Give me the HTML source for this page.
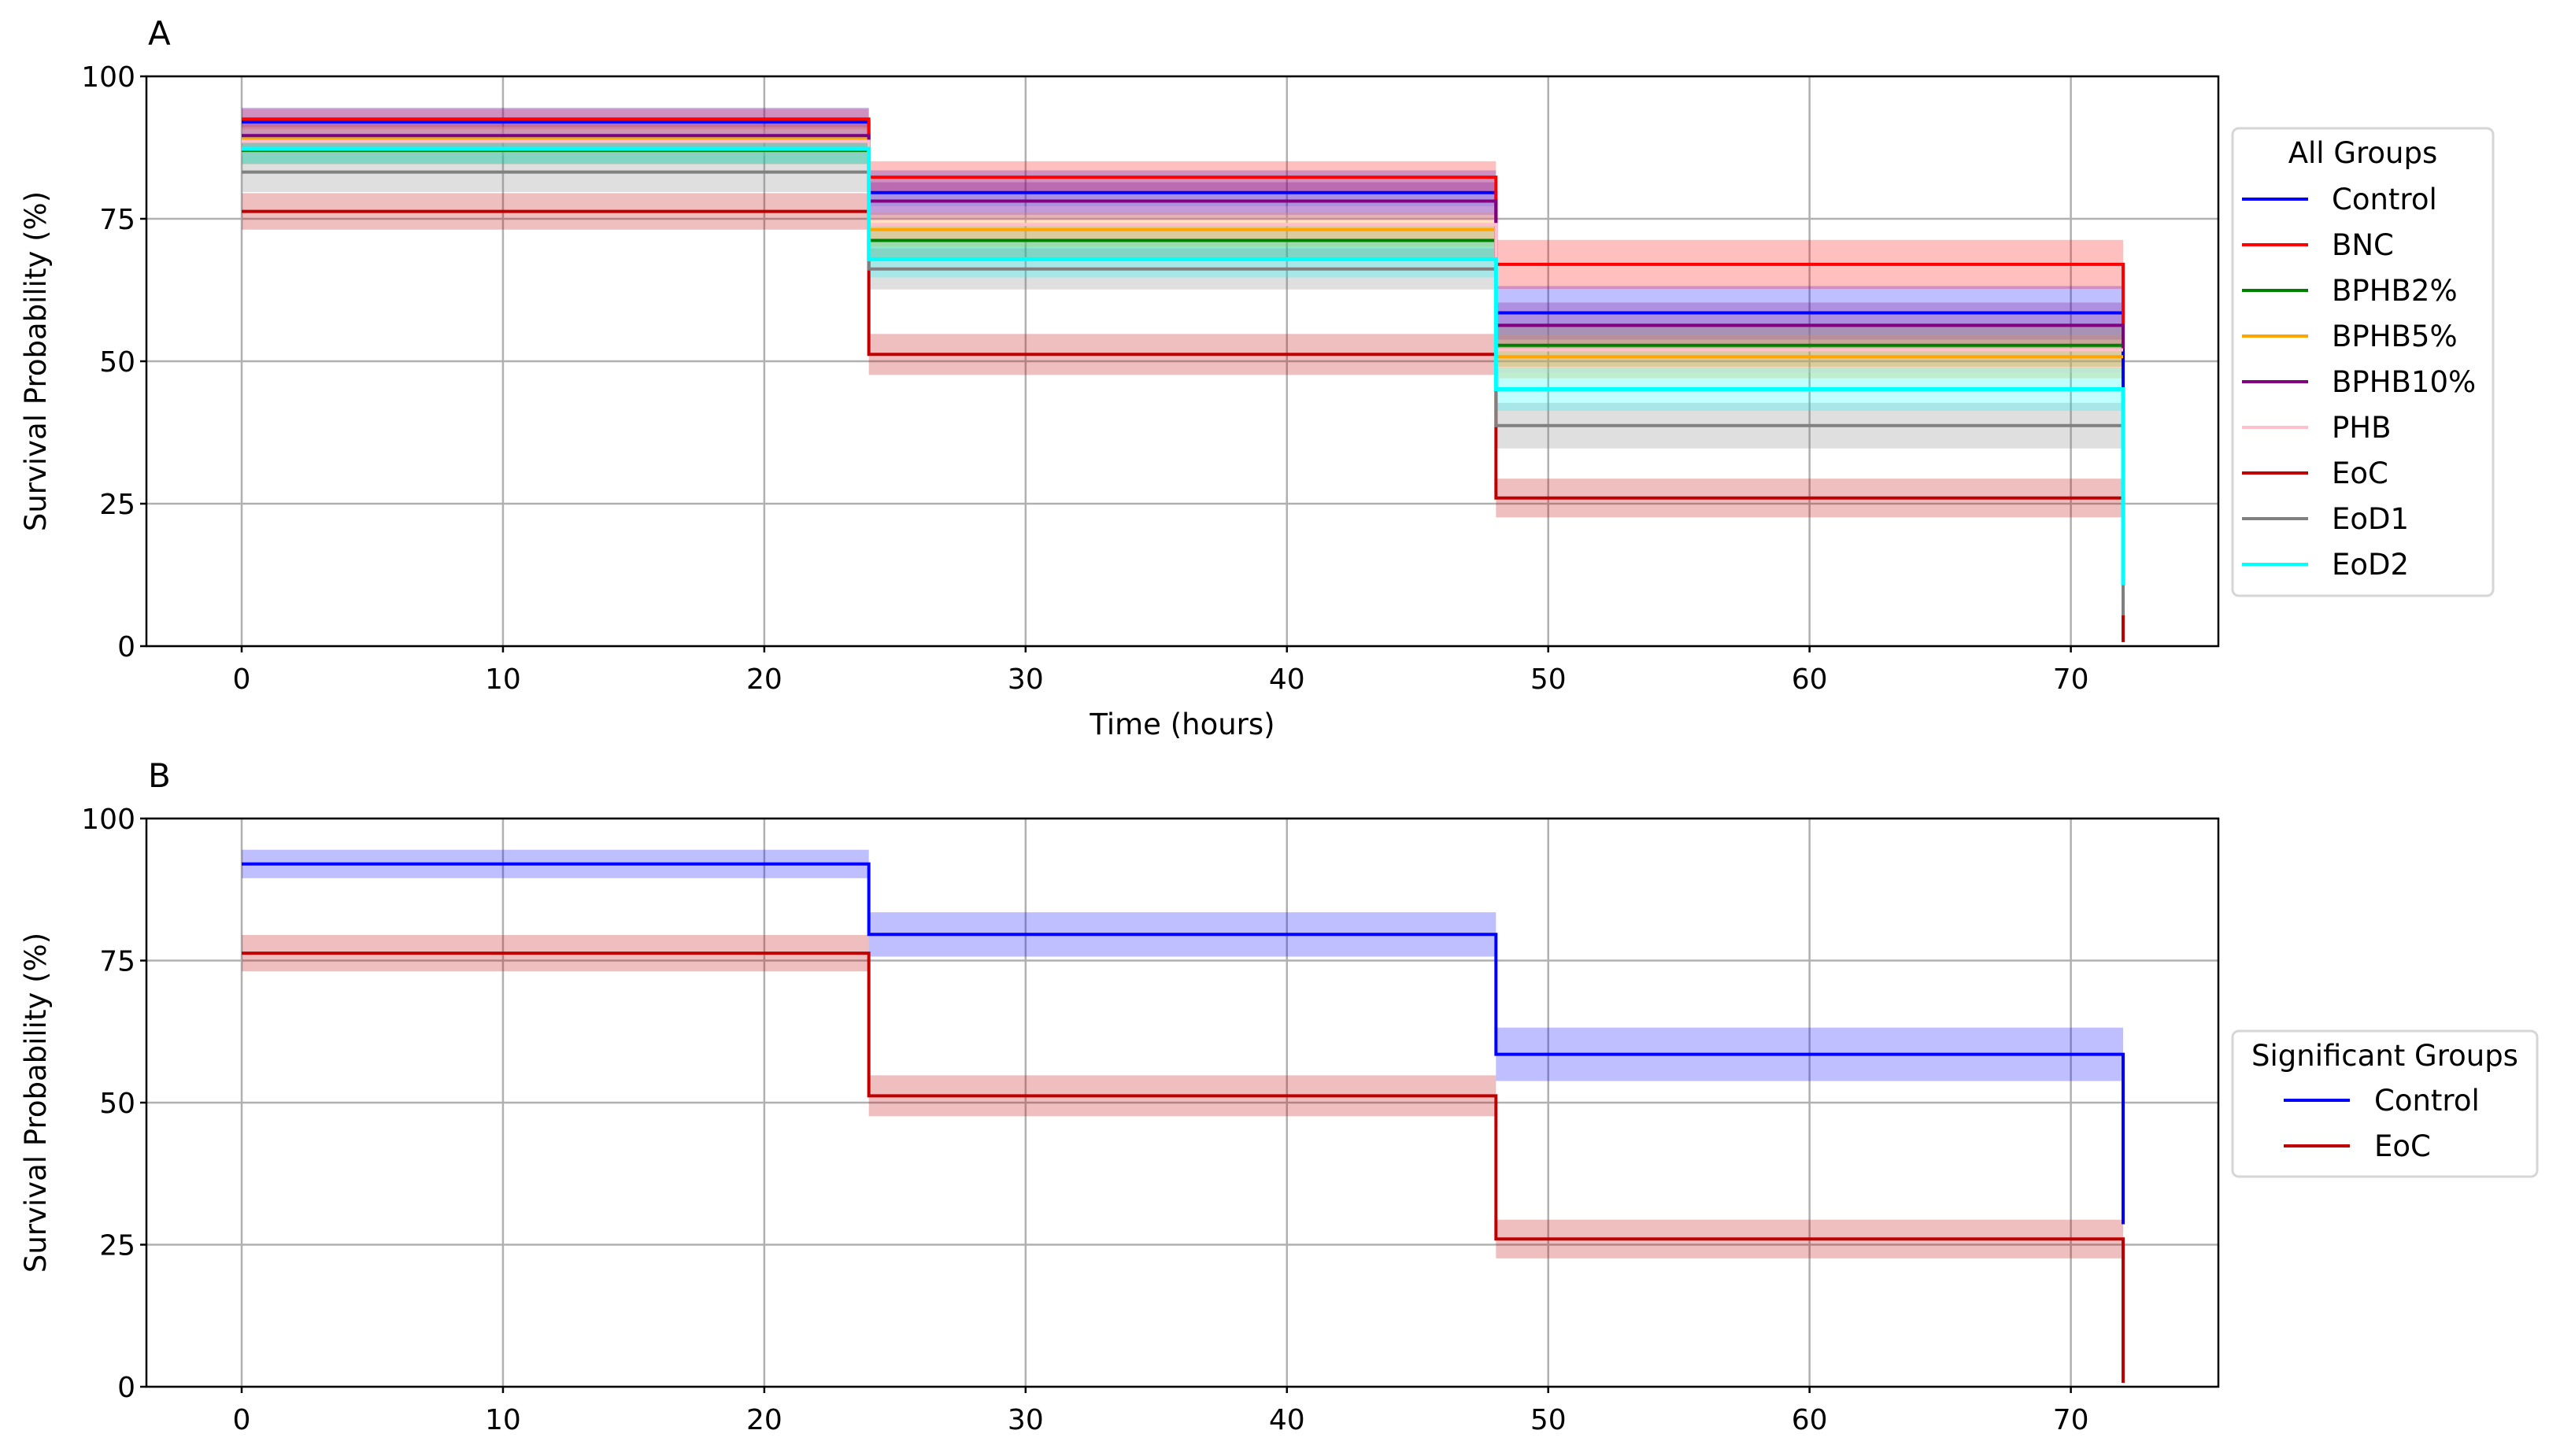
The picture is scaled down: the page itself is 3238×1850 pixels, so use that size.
<!DOCTYPE html>
<html><head><meta charset="utf-8"><style>
html,body{margin:0;padding:0;background:#fff;}
svg{display:block;font-family:"DejaVu Sans","Liberation Sans",sans-serif;}
</style></head><body>
<svg id="chart" width="3238" height="1850" viewBox="0 0 3238 1850" xmlns="http://www.w3.org/2000/svg"></svg>
<script>
const groups = ["Control","BNC","BPHB2%","BPHB5%","BPHB10%","PHB","EoC","EoD1","EoD2"];
const colors = ["#0000ff","#ff0000","#008000","#ffa500","#800080","#ffc0cb","#c00000","#808080","#00ffff"];
const timePoints = [0,24,48,72];
const survControl = [92.0,79.6,58.5,28.6];
const survBNC = [92.5,82.3,67.0,56.6];
const survBPHB2 = [87.0,71.2,52.8,52.8];
const survBPHB5 = [89.0,73.1,50.8,50.8];
const survBPHB10 = [89.6,78.1,56.3,52.2];
const survPHB = [88.6,74.0,52.0,52.0];
const survEoC = [76.3,51.2,26.0,0.7];
const survEoD1 = [83.2,66.2,38.7,5.4];
const survEoD2 = [87.3,67.9,45.1,10.7];
const ciHalfControl = [2.5,3.9,4.7];
const ciHalfBNC = [1.8,2.8,4.3];
const ciHalfBPHB2 = [2.4,3.0,3.8];
const ciHalfBPHB5 = [2.4,3.0,3.8];
const ciHalfBPHB10 = [2.6,3.3,4.0];
const ciHalfPHB = [2.5,3.2,4.0];
const ciHalfEoC = [3.2,3.6,3.4];
const ciHalfEoD1 = [3.5,3.6,4.0];
const ciHalfEoD2 = [2.6,3.2,3.8];
const xTicks = [0,10,20,30,40,50,60,70];
const yTicks = [0,25,50,75,100];
const sigGroups = [0,6];

const series = [survControl,survBNC,survBPHB2,survBPHB5,survBPHB10,survPHB,survEoC,survEoD1,survEoD2];
const cis = [ciHalfControl,ciHalfBNC,ciHalfBPHB2,ciHalfBPHB5,ciHalfBPHB10,ciHalfPHB,ciHalfEoC,ciHalfEoD1,ciHalfEoD2];

const NS="http://www.w3.org/2000/svg";
const svg=document.getElementById('chart');
function el(tag,attrs,parent,text){const e=document.createElementNS(NS,tag);for(const k in attrs)e.setAttribute(k,attrs[k]);if(text!==undefined)e.textContent=text;(parent||svg).appendChild(e);return e;}

const L=186,R=2818;
const xS=t=>307+(t-0)*((2697-307)/72);

function panel(top,bottom,idxs,label,showXLabel,pname){
  const g=el('g',{});
  
  
  const yS=v=>bottom-(v/100)*(bottom-top);
  xTicks.forEach(t=>{const l=el('line',{x1:xS(t),x2:xS(t),y1:top,y2:bottom,stroke:'#b0b0b0','stroke-width':2.5},g);
    });
  yTicks.forEach(v=>{const l=el('line',{x1:L,x2:R,y1:yS(v),y2:yS(v),stroke:'#b0b0b0','stroke-width':2.5},g);
    });
  idxs.forEach(i=>{const s=series[i],c=cis[i];
    for(let k=0;k<3;k++){const r=el('rect',{x:xS(timePoints[k]),width:xS(timePoints[k+1])-xS(timePoints[k]),
      y:yS(Math.min(100,s[k]+c[k])),height:yS(s[k]-c[k])-yS(Math.min(100,s[k]+c[k])),fill:colors[i],'fill-opacity':0.25},g);
      
      }
  });
  idxs.forEach(i=>{const s=series[i];let d='M'+xS(0)+','+yS(s[0]);
    for(let k=1;k<4;k++){d+=' H'+xS(timePoints[k])+' V'+yS(s[k]);}
    const p=el('path',{d:d,fill:'none',stroke:colors[i],'stroke-width':i===8?5:4},g);
    
    });
  const sp=el('rect',{x:L,y:top,width:R-L,height:bottom-top,fill:'none',stroke:'#000','stroke-width':2.5},g);
  
  xTicks.forEach(t=>{el('line',{x1:xS(t),x2:xS(t),y1:bottom,y2:bottom+8,stroke:'#000','stroke-width':2.5},g);
    const tx=el('text',{x:xS(t),y:bottom+54,'font-size':36,'text-anchor':'middle',fill:'#000'},g,String(t));
    });
  yTicks.forEach(v=>{el('line',{x1:L-8,x2:L,y1:yS(v),y2:yS(v),stroke:'#000','stroke-width':2.5},g);
    const tx=el('text',{x:L-14,y:yS(v)+13,'font-size':36,'text-anchor':'end',fill:'#000'},g,String(v));
    });
  const yl=el('text',{x:0,y:0,'font-size':37,'text-anchor':'middle',transform:`translate(58,${(top+bottom)/2}) rotate(-90)`},g,'Survival Probability (%)');
  
  if(showXLabel){const xl=el('text',{x:(L+R)/2,y:bottom+112,'font-size':37,'text-anchor':'middle'},g,'Time (hours)');
    }
  const pl=el('text',{x:188,y:top-40,'font-size':42},g,label);
  
}
panel(97,821,[0,1,2,3,4,5,6,7,8],'A',true,'panel-a');
panel(1040,1762,sigGroups,'B',false,'panel-b');

function legend(x,y,w,h,title,idxs,lineX1,textX,rowY0,name){
  const g=el('g',{});
  
  
  el('rect',{x:x,y:y,width:w,height:h,rx:8,fill:'#fff','fill-opacity':0.8,stroke:'#d6d6d6','stroke-width':3},g);
  const t=el('text',{x:x+w/2,y:y+44,'font-size':37,'text-anchor':'middle'},g,title);
  
  idxs.forEach((i,k)=>{const yy=rowY0+k*58;
    const ln=el('line',{x1:lineX1,x2:lineX1+84,y1:yy,y2:yy,stroke:colors[i],'stroke-width':4},g);
    
    const tx=el('text',{x:textX,y:yy+13,'font-size':37},g,groups[i]);
    });
}
legend(2836,163,331,594,'All Groups',[0,1,2,3,4,5,6,7,8],2848,2962,253,'legend-all-groups');
legend(2836,1310,387,185,'Significant Groups',sigGroups,2901,3016,1398,'legend-significant-groups');
</script>
</body></html>
